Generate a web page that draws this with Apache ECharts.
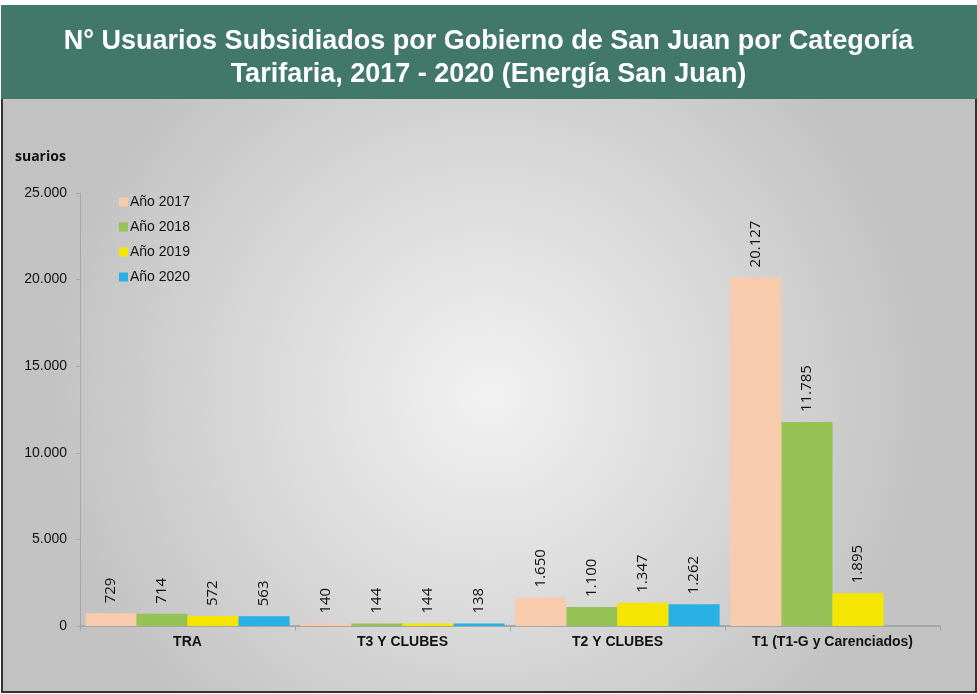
<!DOCTYPE html>
<html>
<head>
<meta charset="utf-8">
<script src="https://cdn.jsdelivr.net/npm/echarts@6/dist/echarts.min.js"></script>
<style>
  html, body { margin: 0; padding: 0; background: #fff; }
  #chart { width: 977px; height: 694px; }
</style>
</head>
<body>
<div id="chart"></div>
<script>
var categories = ['TRA', 'T3 Y CLUBES', 'T2 Y CLUBES', 'T1 (T1-G y Carenciados)'];
var years = ['Año 2017', 'Año 2018', 'Año 2019', 'Año 2020'];
var v2017 = [729, 140, 1650, 20127];
var v2018 = [714, 144, 1100, 11785];
var v2019 = [572, 144, 1347, 1895];
var v2020 = [563, 138, 1262, null];
var yTicks = [0, 5000, 10000, 15000, 20000, 25000];

var colors = ['#f8cbad', '#97c356', '#f4e600', '#29b0e5'];

function miles (n) {
  return String(n).replace(/\B(?=(\d{3})+(?!\d))/g, '.');
}

var chart = echarts.init(document.getElementById('chart'));

var seriesData = [v2017, v2018, v2019, v2020];
var series = seriesData.map(function (d, i) {
  return {
    name: years[i],
    type: 'bar',
    data: d,
    barGap: '0%',
    barCategoryGap: '5%',
    itemStyle: { color: colors[i] },
    label: {
      show: true,
      position: 'top',
      rotate: 90,
      distance: 10,
      align: 'left',
      verticalAlign: 'middle',
      fontFamily: 'Open Sans',
      fontSize: 15,
      color: '#111',
      formatter: function (p) { return miles(p.value); }
    }
  };
});

var option = {
  animation: false,
  title: {
    text: 'N° Usuarios Subsidiados por Gobierno de San Juan por Categoría\nTarifaria, 2017 - 2020 (Energía San Juan)',
    left: 'center',
    top: 20,
    textStyle: {
      color: '#fff',
      fontFamily: 'Liberation Sans',
      fontWeight: 'bold',
      fontSize: 27,
      lineHeight: 33
    }
  },
  graphic: [
    {
      type: 'rect', z: -10, silent: true,
      shape: { x: 2, y: 98, width: 974, height: 594 },
      style: {
        fill: {
          type: 'radial', x: 0.5, y: 0.5, r: 0.75,
          colorStops: [
            { offset: 0, color: '#f2f2f2' },
            { offset: 1, color: '#c2c2c2' }
          ]
        },
        stroke: '#333',
        lineWidth: 2
      }
    },
    {
      type: 'rect', z: -9, silent: true,
      shape: { x: 1, y: 5, width: 976, height: 94 },
      style: { fill: '#42786a' }
    },
    {
      type: 'text', silent: true,
      left: 15, top: 150,
      style: {
        text: 'suarios',
        fill: '#111',
        font: 'bold 14px "Open Sans"'
      }
    }
  ],
  legend: {
    orient: 'vertical',
    left: 114,
    top: 190,
    itemWidth: 9,
    itemHeight: 9,
    itemGap: 11,
    icon: 'rect',
    textStyle: { fontFamily: 'Liberation Sans', fontSize: 14, color: '#111', padding: [0, 0, 0, -3] },
    data: years
  },
  grid: {
    left: 80,
    right: 37,
    top: 193,
    bottom: 68
  },
  xAxis: {
    type: 'category',
    data: categories,
    axisLine: { lineStyle: { color: '#a6a6a6', width: 2 } },
    axisTick: { show: true, length: 5, lineStyle: { color: '#a6a6a6' } },
    axisLabel: {
      margin: 9,
      color: '#111',
      fontFamily: 'Liberation Sans',
      fontWeight: 'bold',
      fontSize: 14
    }
  },
  yAxis: {
    type: 'value',
    min: yTicks[0],
    max: yTicks[yTicks.length - 1],
    interval: 5000,
    splitLine: { show: false },
    axisLine: { show: true, lineStyle: { color: '#a6a6a6' } },
    axisTick: { show: true, length: 4, lineStyle: { color: '#a6a6a6' } },
    axisLabel: {
      margin: 13,
      color: '#111',
      fontFamily: 'Liberation Sans',
      fontSize: 14,
      formatter: function (v) { return miles(v); }
    }
  },
  series: series
};

chart.setOption(option);
</script>
</body>
</html>
